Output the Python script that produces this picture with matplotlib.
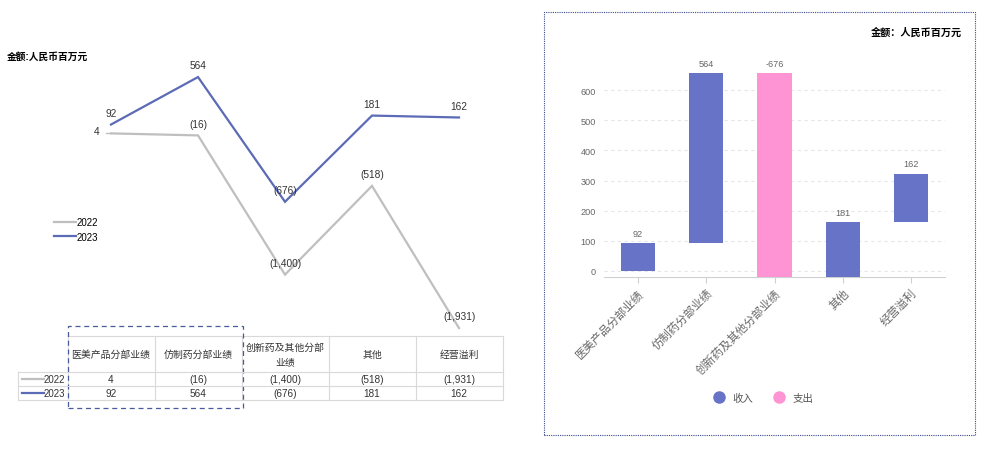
import numpy as np
import matplotlib
matplotlib.use("Agg")
import matplotlib.pyplot as plt
from matplotlib.patches import Rectangle
from matplotlib.lines import Line2D
from matplotlib.transforms import blended_transform_factory

plt.rcParams['font.family'] = ['Liberation Sans', 'Noto Sans CJK SC', 'DejaVu Sans']

# data
segments = ['医美产品分部业绩', '仿制药分部业绩', '创新药及其他分部业绩', '其他', '经营溢利']
table_headers = ['医美产品分部业绩', '仿制药分部业绩', '创新药及其他分部\n业绩', '其他', '经营溢利']
years = ['2022', '2023']
v2022 = [4, -16, -1400, -518, -1931]
v2023 = [92, 564, -676, 181, 162]
line_colors = ['#BFBFBF', '#5B6BB5']

wf_values = [92, 564, -676, 181, 162]
wf_labels = ['92', '564', '-676', '181', '162']
inc_color = '#6673C6'
exp_color = '#FF94D4'

W, H = 985, 456
fig = plt.figure(figsize=(W / 100, H / 100), dpi=100)


def px_rect(left, top, right, bottom):
    return [left / W, 1 - bottom / H, (right - left) / W, (bottom - top) / H]


def fmt(v):
    return f'({abs(v):,})' if v < 0 else f'{v:,}'


# ---------- left: line chart with data table ----------
ax = fig.add_axes(px_rect(67.5, 54.3, 502.5, 336))
ax.set_xlim(-0.5, 4.5)
ax.set_ylim(-2000, 800)
ax.axis('off')
x = np.arange(len(segments))
series = [v2022, v2023]
for vals, c, yr in zip(series, line_colors, years):
    ax.plot(x, vals, color=c, lw=1.6, label=yr, solid_joinstyle='miter')
    for i, v in enumerate(vals):
        if yr == '2022' and i == 0:
            ax.annotate(fmt(v), (x[i], v), xytext=(-8, 2), textcoords='offset points',
                        ha='right', va='center', fontsize=7.3, color='#333333')
        else:
            ax.annotate(fmt(v), (x[i], v), xytext=(0, 8.5), textcoords='offset points',
                        ha='center', va='center', fontsize=7.3, color='#333333')
# small tick at first 2022 point
ax.plot([x[0] - 0.06, x[0]], [v2022[0], v2022[0]], color=line_colors[0], lw=1)

leg = ax.legend(loc='upper left', bbox_to_anchor=(54 / W, 1 - 218 / H), bbox_transform=fig.transFigure,
                frameon=False, fontsize=7, handlelength=2.3, handletextpad=0.05, labelspacing=0.5,
                borderpad=0, borderaxespad=0)

fig.text(7 / W, 1 - 57 / H, '金额:人民币百万元', fontsize=7, fontweight='bold', va='center', ha='left')

# table drawn in figure pixel y, data x
tr = blended_transform_factory(ax.transData, fig.transFigure)
fy = lambda p: 1 - p / H
grid_c = '#D9D9D9'
edges = np.arange(len(segments) + 1) - 0.5
left_px = 18 / W
row_top, head_bot, r1, r2 = 337, 373, 387, 401
for e in edges:
    ax.add_line(Line2D([e, e], [fy(row_top), fy(r2)], transform=tr, color=grid_c, lw=0.8, clip_on=False))
ax.add_line(Line2D([edges[0], edges[-1]], [fy(row_top)] * 2, transform=tr, color=grid_c, lw=0.8, clip_on=False))
for yy in (head_bot, r1, r2):
    fig.add_artist(Line2D([left_px, 503 / W], [fy(yy)] * 2, color=grid_c, lw=0.8))
fig.add_artist(Line2D([left_px, left_px], [fy(head_bot), fy(r2)], color=grid_c, lw=0.8))

for i, h in enumerate(table_headers):
    ax.text(x[i], fy((row_top + head_bot) / 2), h, transform=tr, ha='center', va='center',
            fontsize=7.1, color='#333333', linespacing=1.6, clip_on=False)
    for vals, (ya, yb) in zip(series, [(head_bot, r1), (r1, r2)]):
        ax.text(x[i], fy((ya + yb) / 2), fmt(vals[i]), transform=tr, ha='center', va='center',
                fontsize=7.2, color='#333333', clip_on=False)
for yr, c, (ya, yb) in zip(years, line_colors, [(head_bot, r1), (r1, r2)]):
    ym = fy((ya + yb) / 2)
    fig.add_artist(Line2D([22 / W, 44 / W], [ym, ym], color=c, lw=1.6))
    fig.text(44 / W, ym, yr, fontsize=7, va='center', ha='left', color='#333333')

# dashed highlight box
fig.add_artist(Rectangle((68 / W, fy(409)), (243 - 68) / W, (409 - 327) / H, fill=False,
                         edgecolor='#4A5A9A', lw=0.9, linestyle=(0, (4, 3))))

# ---------- right: waterfall ----------
fig.add_artist(Rectangle((544 / W, fy(436)), (975 - 544) / W, (436 - 13) / H, fill=False,
                         edgecolor='#3A4A8A', lw=0.8, linestyle=(0, (1, 1))))
fig.text(962 / W, fy(33), '金额：人民币百万元', fontsize=7.3, fontweight='bold', ha='right', va='center',
         family=['Noto Sans CJK SC', 'DejaVu Sans'])

bx = fig.add_axes(px_rect(604, 67, 945, 278))
ends = np.cumsum(wf_values)
starts = ends - np.array(wf_values)
bottoms = np.minimum(starts, ends)
heights = np.abs(wf_values)
colors = [inc_color if v >= 0 else exp_color for v in wf_values]
bx.bar(x, heights, bottom=bottoms, width=0.5, color=colors, zorder=3)
for i in range(len(x)):
    bx.annotate(wf_labels[i], (x[i], bottoms[i] + heights[i]), xytext=(0, 7), textcoords='offset points',
                ha='center', va='center', fontsize=6.6, color='#666666')
bx.set_xlim(-0.5, 4.5)
bx.set_ylim(-20, 680)
bx.set_yticks(range(0, 700, 100))
bx.tick_params(axis='y', length=0, labelsize=6.6, labelcolor='#666666', pad=6)
bx.set_xticks(x)
bx.set_xticklabels(segments, rotation=45, ha='right', rotation_mode='anchor', fontsize=8.2, color='#666666')
bx.tick_params(axis='x', length=4, color='#D0D0D0', pad=3)
bx.grid(axis='y', linestyle=(0, (3, 3)), color='#E6E6E6', lw=0.8)
for s in ['top', 'right', 'left']:
    bx.spines[s].set_visible(False)
bx.spines['bottom'].set_color('#D0D0D0')

handles = [Line2D([], [], marker='o', ls='', markersize=8, color=inc_color),
           Line2D([], [], marker='o', ls='', markersize=8, color=exp_color)]
fig.legend(handles, ['收入', '支出'], loc='center', bbox_to_anchor=(761 / W, fy(399)), ncol=2,
           frameon=False, fontsize=7.5, handletextpad=0.3, columnspacing=1.5, labelcolor='#555555')

fig.savefig('out.png', dpi=100)
